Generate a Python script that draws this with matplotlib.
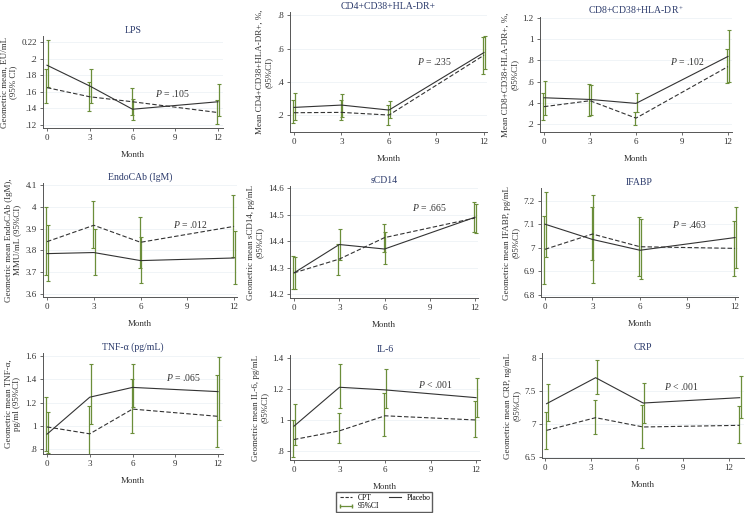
import matplotlib
matplotlib.use("Agg")
import matplotlib.pyplot as plt
from matplotlib.lines import Line2D

plt.rcParams['font.family'] = ['Liberation Serif', 'DejaVu Serif']
plt.rcParams['mathtext.fontset'] = 'custom'
plt.rcParams['mathtext.rm'] = 'Liberation Serif'
plt.rcParams['mathtext.it'] = 'Liberation Serif:italic'

# ---- data ----
months = [0, 3, 6, 12]
crp_months = [0.1, 3.3, 6.4, 12.7]

titles = ["LPS", "CD4+CD38+HLA-DR+", "CD8+CD38+HLA-DR$^+$",
          "EndoCAb (IgM)", "sCD14", "IFABP",
          "TNF-α (pg/mL)", "IL-6", "CRP"]
ylabels = ["Geometric mean, EU/mL\n(95% CI)",
           "Mean CD4+CD38+HLA-DR+, %,\n(95%CI)",
           "Mean CD8+CD38+HLA-DR+, %,\n(95%CI)",
           "Geometric mean EndoCAb (IgM),\nMMU/mL (95%CI)",
           "Geometric mean sCD14, pg/mL\n(95%CI)",
           "Geometric mean IFABP, pg/mL\n(95%CI)",
           "Geometric mean TNF-α,\npg/ml (95%CI)",
           "Geometric mean IL-6, pg/mL\n(95%CI)",
           "Geometric mean CRP, ng/mL\n(95%CI)"]
p_values = ["= .105", "= .235", "= .102", "= .012", "= .665",
            "= .463", "= .065", "< .001", "< .001"]

placebo = [[.192, .167, .139, .148],
           [.246, .26, .23, .576],
           [.448, .432, .395, .838],
           [3.785, 3.79, 3.753, 3.765],
           [14.28, 14.387, 14.37, 14.49],
           [7.101, 7.036, 6.99, 7.044],
           [.93, 1.247, 1.331, 1.295],
           [.96, 1.211, 1.194, 1.144],
           [7.308, 7.702, 7.318, 7.399]]
placebo_lo = [[.166, .146, .126, .131],
              [.17, .19, .18, .475],
              [.29, .29, .31, .6],
              [3.66, 3.685, 3.65, 3.645],
              [14.22, 14.33, 14.313, 14.432],
              [6.963, 6.85, 6.866, 6.913],
              [.765, 1.02, 1.16, 1.054],
              [.837, 1.075, 1.075, 1.021],
              [7.04, 7.449, 7.02, 7.091]]
placebo_hi = [[.222, .188, .151, .169],
              [.33, .325, .284, .675],
              [.606, .57, .49, 1.09],
              [3.915, 3.897, 3.86, 3.89],
              [14.34, 14.446, 14.436, 14.54],
              [7.238, 7.224, 7.121, 7.175],
              [1.117, 1.53, 1.535, 1.592],
              [1.1, 1.363, 1.329, 1.27],
              [7.6, 7.975, 7.626, 7.727]]

cpt = [[.165, .154, .148, .135],
       [.214, .216, .2, .56],
       [.364, .42, .256, .742],
       [3.84, 3.915, 3.837, 3.91],
       [14.28, 14.332, 14.413, 14.487],
       [6.994, 7.059, 7.005, 6.998],
       [.992, .933, 1.145, 1.083],
       [.874, .93, 1.027, 1.0],
       [6.904, 7.096, 6.955, 6.98]]
cpt_lo = [[.146, .137, .132, .121],
          [.15, .17, .14, .445],
          [.24, .28, .195, .59],
          [3.685, 3.81, 3.72, 3.77],
          [14.22, 14.272, 14.36, 14.436],
          [6.847, 6.949, 6.88, 6.88],
          [.79, .743, .94, .822],
          [.761, .85, .895, .891],
          [6.62, 6.843, 6.641, 6.717]]
cpt_hi = [[.188, .172, .165, .15],
          [.29, .29, .26, .67],
          [.49, .575, .31, .91],
          [4.0, 4.028, 3.955, 4.055],
          [14.342, 14.39, 14.464, 14.546],
          [7.135, 7.175, 7.132, 7.115],
          [1.245, 1.17, 1.4, 1.436],
          [.998, 1.043, 1.177, 1.123],
          [7.18, 7.36, 7.283, 7.268]]

yticks = [[.12, .14, .16, .18, .2, .22],
          [.2, .4, .6, .8],
          [.2, .4, .6, .8, 1, 1.2],
          [3.6, 3.7, 3.8, 3.9, 4, 4.1],
          [14.2, 14.3, 14.4, 14.5, 14.6],
          [6.8, 6.9, 7, 7.1, 7.2],
          [.8, 1, 1.2, 1.4, 1.6],
          [.8, 1, 1.2, 1.4],
          [6.5, 7, 7.5, 8]]
yticklabels = [[".12", ".14", ".16", ".18", ".2", "0.22"],
               [".2", ".4", ".6", ".8"],
               [".2", ".4", ".6", ".8", "1", "1.2"],
               ["3.6", "3.7", "3.8", "3.9", "4", "4.1"],
               ["14.2", "14.3", "14.4", "14.5", "14.6"],
               ["6.8", "6.9", "7", "7.1", "7.2"],
               [".8", "1", "1.2", "1.4", "1.6"],
               [".8", "1", "1.2", "1.4"],
               ["6.5", "7", "7.5", "8"]]

# ---- layout (pixels: left, top, right, bottom), axis limits, P text spot ----
W, H = 746, 513
boxes = [(43, 36, 223, 128), (290, 12, 487, 132), (540, 17, 732, 132),
         (43, 183, 237, 297), (290, 186, 478, 298), (541, 188, 738, 297),
         (43, 353, 223, 454), (290, 355, 480, 460), (542, 353, 744, 458)]
xlims = [(-0.28, 12.35), (-0.25, 12.19), (-0.26, 12.26),
         (-0.26, 12.19), (-0.27, 12.2), (-0.25, 12.19),
         (-0.28, 12.35), (-0.26, 12.26), (-0.2, 12.98)]
ylims = [(.1164, .2272), (.098, .82), (.125, 1.21),
         (3.586, 4.109), (14.185, 14.608), (6.791, 7.255),
         (.76, 1.626), (.742, 1.419), (6.485, 8.076)]
p_pos = [(7.6, .158), (7.8, .524), (8.2, .79), (8.1, 3.918), (7.8, 14.528),
         (8.0, 7.1), (8.35, 1.42), (8.2, 1.231), (7.75, 7.57)]

green = "#6b8e3a"
line_col = "#333333"
title_col = "#2b3a6b"
fs = 6.5

fig = plt.figure(figsize=(W / 100, H / 100), dpi=100)
fig.patch.set_facecolor("white")

for i in range(9):
    l, t, r, b = boxes[i]
    ax = fig.add_axes([l / W, 1 - b / H, (r - l) / W, (b - t) / H])
    xs = crp_months if i == 8 else months

    for y, lo, hi, dx in [(placebo[i], placebo_lo[i], placebo_hi[i], 0.06),
                          (cpt[i], cpt_lo[i], cpt_hi[i], -0.06)]:
        ax.errorbar([x + dx for x in xs], y,
                    yerr=[[a - c for a, c in zip(y, lo)], [c - a for a, c in zip(y, hi)]],
                    fmt='none', ecolor=green, elinewidth=0.9, capsize=1.5,
                    capthick=0.8, zorder=2)
    ax.plot(xs, placebo[i], color=line_col, lw=0.8, zorder=3)
    ax.plot(xs, cpt[i], color=line_col, lw=0.8, ls=(0, (4, 2)), zorder=3)

    ax.set_xlim(*xlims[i])
    ax.set_ylim(*ylims[i])
    ax.set_xticks([0, 3, 6, 9, 12])
    ax.set_yticks(yticks[i])
    ax.set_yticklabels(yticklabels[i])
    ax.tick_params(labelsize=fs, length=2.5, width=0.6, color="#555555",
                   pad=2, labelcolor="#333333")
    for s in ["top", "right"]:
        ax.spines[s].set_visible(False)
    for s in ["left", "bottom"]:
        ax.spines[s].set_color("#555555")
        ax.spines[s].set_linewidth(0.7)
    ax.grid(axis='y', color="#eef2f6", lw=0.6, zorder=0)
    ax.set_axisbelow(True)

    ax.set_title(titles[i], fontsize=fs + 0.5, color=title_col, pad=2.5)
    ax.set_xlabel("Month", fontsize=fs, color="#333333", labelpad=6)
    ax.set_ylabel(ylabels[i], fontsize=fs, color="#333333", labelpad=3,
                  linespacing=1.1)
    ax.text(p_pos[i][0], p_pos[i][1], "$\\it{P}$ " + p_values[i],
            fontsize=fs + 0.5, color="#333333", va='center')

handles = [Line2D([], [], color=line_col, lw=0.8, ls=(0, (3, 1.5))),
           Line2D([], [], color=green, lw=0.9, marker='|', markersize=3.5),
           Line2D([], [], color=line_col, lw=0.8)]
fig.legend(handles, ["CPT", "95%CI", "Placebo"], ncol=2, fontsize=5.5,
           loc='center', bbox_to_anchor=(384 / W, 1 - 502 / H), numpoints=2,
           frameon=True, fancybox=False, edgecolor="#333333",
           handlelength=2.2, handletextpad=0.4, columnspacing=1.0,
           labelspacing=0.05, borderpad=0.2, borderaxespad=0)

fig.savefig("out.png", dpi=100, facecolor="white")
